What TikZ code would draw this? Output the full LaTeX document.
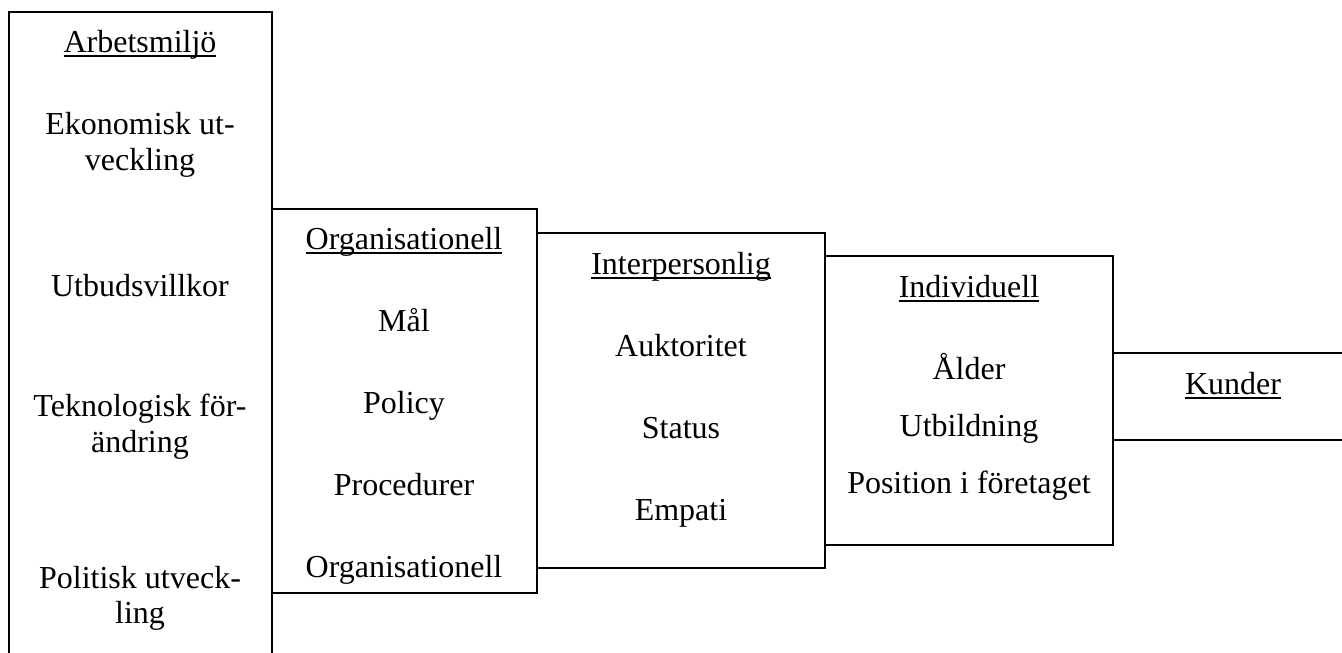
\documentclass[tikz,border=0pt]{standalone}
\usepackage{fontspec}
\setmainfont{Liberation Serif}
\newcommand{\ulword}[1]{\setbox0\hbox{#1}\rlap{\rule[-1.7pt]{\wd0}{0.7pt}}\box0}
\tikzstyle{box} = [draw, rectangle, line width=0.8pt, inner sep=0pt]
\tikzstyle{txt} = [anchor=base, inner sep=0pt, font=\fontsize{12}{14}\selectfont]

\begin{document}
\begin{tikzpicture}[x=0.375pt, y=-0.375pt]
  \useasboundingbox[fill=white] (0,0) rectangle (1342,652);
  % the four boxes
  \node[box, minimum width=263*0.375pt, minimum height=660*0.375pt] (env) at (140.5,342) {};
  \node[box, minimum width=265*0.375pt, minimum height=384*0.375pt] (org) at (404.5,401) {};
  \node[box, minimum width=288*0.375pt, minimum height=335*0.375pt] (inter) at (681,400.5) {};
  \node[box, minimum width=288*0.375pt, minimum height=289*0.375pt] (indiv) at (969,400.5) {};
  % open box on the right
  \coordinate (k1) at (1350,353);
  \coordinate (k2) at (1350,440);
  \draw[line width=0.8pt] (indiv.east |- k1) -- (k1);
  \draw[line width=0.8pt] (indiv.east |- k2) -- (k2);

  % Arbetsmiljo
  \node[txt] (a0) at (140,52) {\ulword{Arbetsmiljö}};
  \node[txt] (a1) at (140,134) {Ekonomisk ut-};
  \node[txt] (a1b) at (140,170) {veckling};
  \node[txt] (a2) at (140,296) {Utbudsvillkor};
  \node[txt] (a3) at (140,416) {Teknologisk för-};
  \node[txt] (a3b) at (140,452) {ändring};
  \node[txt] (a4) at (140,588) {Politisk utveck-};
  \node[txt] (a4b) at (140,623) {ling};

  % Organisationell
  \node[txt] (o0) at (404,249) {\ulword{Organisationell}};
  \node[txt] (o1) at (404,331) {Mål};
  \node[txt] (o2) at (404,413) {Policy};
  \node[txt] (o3) at (404,495) {Procedurer};
  \node[txt] (o4) at (404,577) {Organisationell};

  % Interpersonlig
  \node[txt] (i0) at (681,274) {\ulword{Interpersonlig}};
  \node[txt] (i1) at (681,356) {Auktoritet};
  \node[txt] (i2) at (681,438) {Status};
  \node[txt] (i3) at (681,520) {Empati};

  % Individuell
  \node[txt] (d0) at (969,297) {\ulword{Individuell}};
  \node[txt] (d1) at (969,379) {Ålder};
  \node[txt] (d2) at (969,436) {Utbildning};
  \node[txt] (d3) at (969,493) {Position i företaget};

  \node[txt] (kund) at (1233,394) {\ulword{Kunder}};
\end{tikzpicture}
\end{document}
